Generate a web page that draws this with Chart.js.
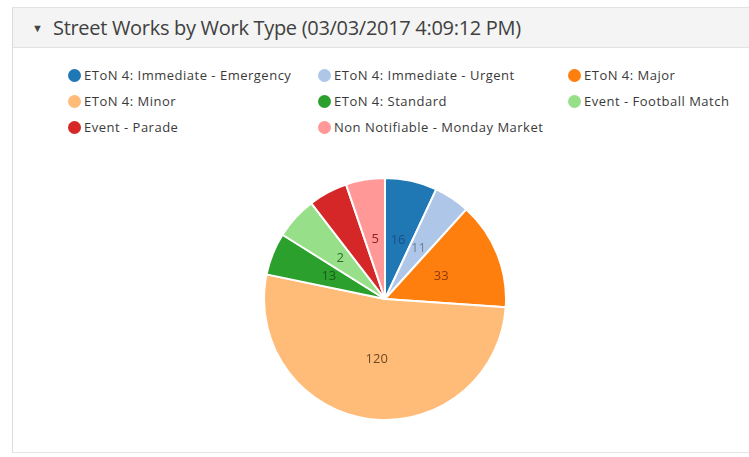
<!DOCTYPE html>
<html>
<head>
<meta charset="utf-8">
<script src="https://cdn.jsdelivr.net/npm/chart.js@4"></script>
<style>
  html, body { margin: 0; padding: 0; background: #fff; }
  body { width: 749px; height: 457px; position: relative; overflow: hidden; font-family: "Open Sans", sans-serif; color: #333; }
  .panel { position: absolute; left: 12px; top: 7px; width: 760px; height: 444px; border-left: 1px solid #dcdcdc; border-top: 1px solid #e2e2e2; border-bottom: 1px solid #e4e4e4; }
  .header { height: 39px; background: #f4f4f4; border-bottom: 1px solid #e2e2e2; position: relative; }
  .header .caret { position: absolute; left: 19px; top: 12px; font-size: 11px; color: #444; }
  .header .title { position: absolute; left: 40px; top: 6px; font-size: 20px; color: #404040; letter-spacing: -0.3px; }
  .legend { position: absolute; left: 68px; top: 66px; display: grid; grid-template-columns: 250px 250px 250px; row-gap: 8px; }
  .legend div { display: flex; align-items: center; font-size: 13px; letter-spacing: 0.5px; height: 18px; color: #3a3a3a; }
  .legend span.dot { width: 13px; height: 13px; border-radius: 50%; margin-right: 3px; flex: none; }
  #pie { position: absolute; left: 263px; top: 177px; }
</style>
</head>
<body>
<div class="panel">
  <div class="header"><span class="caret">&#9660;</span><span class="title">Street Works by Work Type (03/03/2017 4:09:12 PM)</span></div>
</div>
<div class="legend" id="legend"></div>
<canvas id="pie" width="244" height="244"></canvas>
<script>
// 分類
const categories = [
  'EToN 4: Immediate - Emergency',
  'EToN 4: Immediate - Urgent',
  'EToN 4: Major',
  'EToN 4: Minor',
  'EToN 4: Standard',
  'Event - Football Match',
  'Event - Parade',
  'Non Notifiable - Monday Market'
];
// スライスの大きさ（画像から推定）
const values = [16, 11, 33, 120, 13, 13, 12, 12];
// スライス上に表示されている文字
const sliceLabels = ['16', '11', '33', '120', '13', '2', '', '5'];
const colors = ['#1f77b4', '#aec7e8', '#ff7f0e', '#ffbb78', '#2ca02c', '#98df8a', '#d62728', '#ff9896'];
const labelColors = ['#1c4f85', '#6d7f99', '#8c3a10', '#6b4a22', '#1c5a1c', '#2f6b2a', '#7a1a1a', '#8a2020'];

// 凡例（HTML）
const legendEl = document.getElementById('legend');
categories.forEach((name, i) => {
  const item = document.createElement('div');
  item.innerHTML = `<span class="dot" style="background:${colors[i]}"></span>${name}`;
  legendEl.appendChild(item);
});

// スライスのラベルを描くプラグイン
const sliceLabelPlugin = {
  id: 'sliceLabels',
  afterDatasetsDraw(chart) {
    const ctx = chart.ctx;
    const meta = chart.getDatasetMeta(0);
    ctx.save();
    ctx.font = '13px "Open Sans", sans-serif';
    ctx.textAlign = 'center';
    ctx.textBaseline = 'middle';
    meta.data.forEach((arc, i) => {
      if (!sliceLabels[i]) return;
      const p = arc.tooltipPosition();
      ctx.fillStyle = labelColors[i];
      ctx.fillText(sliceLabels[i], p.x, p.y);
    });
    ctx.restore();
  }
};

new Chart(document.getElementById('pie').getContext('2d'), {
  type: 'pie',
  data: {
    labels: categories,
    datasets: [{
      data: values,
      backgroundColor: colors,
      borderColor: '#ffffff',
      borderWidth: 2
    }]
  },
  options: {
    responsive: false,
    animation: false,
    plugins: {
      legend: { display: false },
      tooltip: { enabled: false }
    }
  },
  plugins: [sliceLabelPlugin]
});
</script>
</body>
</html>
